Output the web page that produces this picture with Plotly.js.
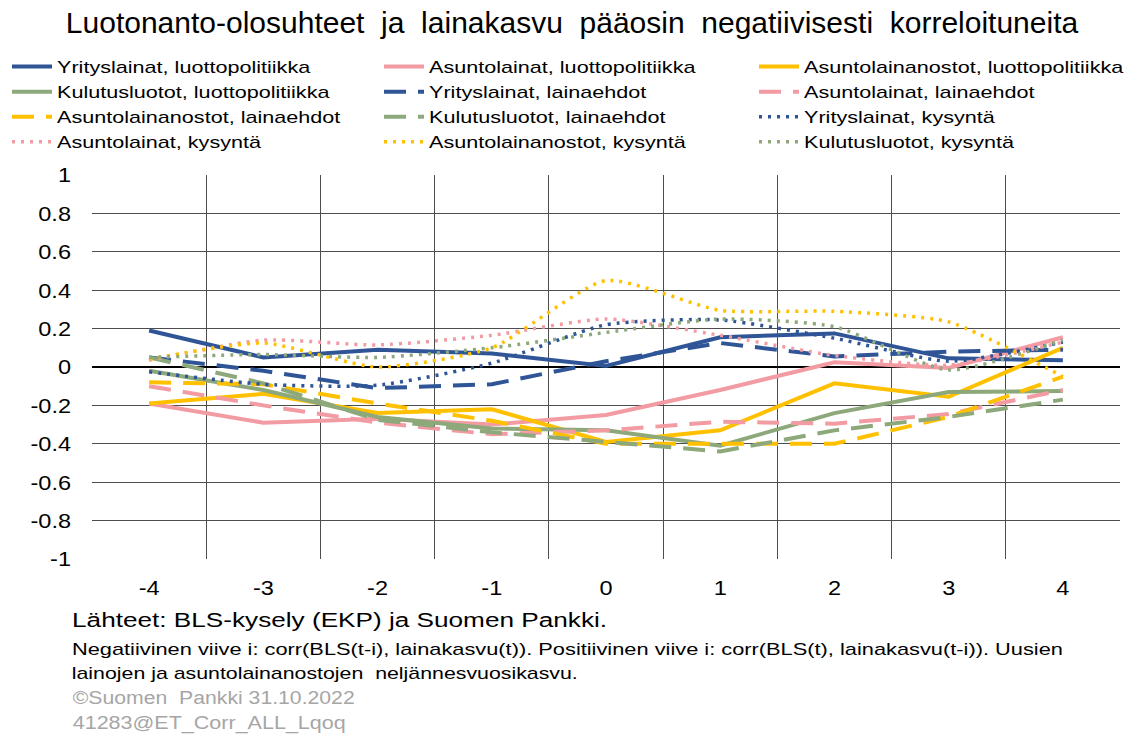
<!DOCTYPE html>
<html>
<head>
<meta charset="utf-8">
<script src="https://cdn.plot.ly/plotly-3.0.1.min.js"></script>
<style>
html,body{margin:0;padding:0;background:#fff;}
#chart{width:1126px;height:735px;}
</style>
</head>
<body>
<div id="chart"></div>
<script>
// Lags
const lags = [-4, -3, -2, -1, 0, 1, 2, 3, 4];
const lagLabels = ["-4", "-3", "-2", "-1", "0", "1", "2", "3", "4"];
const yTickVals = [1, 0.8, 0.6, 0.4, 0.2, 0, -0.2, -0.4, -0.6, -0.8, -1];
const yTickText = ["1", "0.8", "0.6", "0.4", "0.2", "0", "-0.2", "-0.4", "-0.6", "-0.8", "-1"];
const gridPos = [-4.5, -3.5, -2.5, -1.5, -0.5, 0.5, 1.5, 2.5, 3.5, 4.5];

// Series (correlations)
const yritysLuottopolitiikka   = [0.19, 0.05, 0.09, 0.07, 0.005, 0.155, 0.175, 0.045, 0.035];
const asuntoLuottopolitiikka   = [-0.19, -0.29, -0.27, -0.30, -0.25, -0.12, 0.025, -0.005, 0.155];
const nostotLuottopolitiikka   = [-0.19, -0.14, -0.24, -0.22, -0.39, -0.33, -0.085, -0.155, 0.10];
const kulutusLuottopolitiikka  = [-0.02, -0.12, -0.26, -0.32, -0.33, -0.41, -0.24, -0.13, -0.125];
const yritysLainaehdot         = [0.05, -0.02, -0.11, -0.09, 0.03, 0.125, 0.055, 0.08, 0.09];
const asuntoLainaehdot         = [-0.10, -0.20, -0.29, -0.35, -0.33, -0.285, -0.295, -0.245, -0.12];
const nostotLainaehdot         = [-0.08, -0.09, -0.19, -0.28, -0.40, -0.40, -0.40, -0.26, -0.05];
const kulutusLainaehdot        = [0.05, -0.085, -0.275, -0.34, -0.39, -0.44, -0.33, -0.26, -0.17];
const yritysKysynta            = [-0.025, -0.09, -0.095, 0.02, 0.22, 0.245, 0.15, 0.03, 0.13];
const asuntoKysynta            = [0.035, 0.14, 0.115, 0.165, 0.25, 0.165, 0.06, 0.01, 0.13];
const nostotKysynta            = [0.04, 0.125, 0.0, 0.10, 0.45, 0.295, 0.29, 0.235, -0.05];
const kulutusKysynta           = [0.05, 0.065, 0.05, 0.10, 0.18, 0.25, 0.21, -0.015, 0.14];

const names = [
  "Yrityslainat, luottopolitiikka", "Asuntolainat, luottopolitiikka", "Asuntolainanostot, luottopolitiikka",
  "Kulutusluotot, luottopolitiikka", "Yrityslainat, lainaehdot", "Asuntolainat, lainaehdot",
  "Asuntolainanostot, lainaehdot", "Kulutusluotot, lainaehdot", "Yrityslainat, kysyntä",
  "Asuntolainat, kysyntä", "Asuntolainanostot, kysyntä", "Kulutusluotot, kysyntä"
];
const values = [
  yritysLuottopolitiikka, asuntoLuottopolitiikka, nostotLuottopolitiikka,
  kulutusLuottopolitiikka, yritysLainaehdot, asuntoLainaehdot,
  nostotLainaehdot, kulutusLainaehdot, yritysKysynta,
  asuntoKysynta, nostotKysynta, kulutusKysynta
];

// Footer texts
const sourceText = "Lähteet: BLS-kysely (EKP) ja Suomen Pankki.";
const noteLine1 = "Negatiivinen viive i: corr(BLS(t-i), lainakasvu(t)). Positiivinen viive i: corr(BLS(t), lainakasvu(t-i)). Uusien";
const noteLine2 = "lainojen ja asuntolainanostojen  neljännesvuosikasvu.";
const copyText = "©Suomen  Pankki 31.10.2022";
const codeText = "41283@ET_Corr_ALL_Lqoq";

const BLUE = "#2F5597", PINK = "#F29BA3", GOLD = "#FFC000", GREEN = "#8DA97B";
const colors = [BLUE, PINK, GOLD, GREEN, BLUE, PINK, GOLD, GREEN, BLUE, PINK, GOLD, GREEN];
const dashes = ["solid","solid","solid","solid",
                "22px,12px","22px,12px","22px,12px","22px,12px",
                "3px,6px","3px,6px","3px,6px","3px,6px"];
const legendIds = ["legend", "legend2", "legend3"];

const traces = names.map((n, i) => ({
  type: "scatter", mode: "lines", name: n,
  x: lags, y: values[i],
  legend: legendIds[i % 3],
  line: {color: colors[i], width: i >= 8 ? 3.5 : 4, dash: dashes[i],
         shape: i >= 8 ? "spline" : "linear", smoothing: 0.6},
  xaxis: "x", yaxis: "y"
}));
// empty trace carrying the category-boundary grid axis
traces.push({type: "scatter", mode: "lines", x: [], y: [], xaxis: "x2", yaxis: "y", showlegend: false, hoverinfo: "skip"});

const legendBase = (xpx) => ({
  orientation: "v", xref: "container", yref: "container", x: xpx / 1126, y: 1 - 49 / 735,
  xanchor: "left", yanchor: "top", font: {size: 17, color: "#000"}, bgcolor: "rgba(0,0,0,0)",
  traceorder: "normal", itemwidth: 40, borderwidth: 0
});

const PW = 1028, PB = 559, PH = 384;
const px2x = (px) => (px - 92) / PW;
const py2y = (py) => (PB - py) / PH;

// footer line specs: [text, left px, right px, centre y px, font size, colour]
const footer = [
  [sourceText, 72, 607, 620, 20, "#000"],
  [noteLine1, 72, 1063, 649, 17, "#000"],
  [noteLine2, 72, 578, 673, 17, "#000"],
  [copyText, 72, 354, 698, 18, "#A6A6A6"],
  [codeText, 72, 345, 723, 18, "#A6A6A6"]
];

const layout = {
  width: 1126, height: 735,
  paper_bgcolor: "#fff", plot_bgcolor: "#fff",
  font: {family: "Liberation Sans, Arial, sans-serif", color: "#000"},
  margin: {l: 92, r: 6, t: 175, b: 176, autoexpand: false},
  title: {text: "Luotonanto-olosuhteet  ja  lainakasvu  pääosin  negatiivisesti  korreloituneita",
          font: {size: 30, color: "#000"}, x: 572 / 1126, xanchor: "center", xref: "container",
          y: 1 - 22 / 735, yref: "container", yanchor: "middle"},
  showlegend: true,
  legend: legendBase(7),
  legend2: legendBase(379),
  legend3: legendBase(754),
  xaxis: {range: [-4.5, 4.5], tickvals: lags, ticktext: lagLabels, showgrid: false, zeroline: false,
          ticks: "", tickfont: {size: 21}, showline: false, fixedrange: true, ticklabelstandoff: 14},
  xaxis2: {range: [-4.5, 4.5], overlaying: "x", tickvals: gridPos, showgrid: true, gridcolor: "#4d4d4d", gridwidth: 1,
           showticklabels: false, ticks: "", zeroline: false, side: "bottom"},
  yaxis: {range: [-1, 1], tickvals: yTickVals, ticktext: yTickText, showgrid: true, gridcolor: "#4d4d4d", gridwidth: 1,
          zeroline: true, zerolinecolor: "#000", zerolinewidth: 2, tickfont: {size: 21}, ticks: "",
          ticklabelstandoff: 20},
  annotations: footer.map(f => ({
    xref: "paper", yref: "paper", x: px2x((f[1] + f[2]) / 2), y: py2y(f[3]), xanchor: "center", yanchor: "middle",
    showarrow: false, text: f[0], font: {size: f[4], color: f[5]}
  }))
};

function stretchTo(el, target) {
  el.setAttribute("textLength", target);
  el.setAttribute("lengthAdjust", "spacingAndGlyphs");
}
function stretchBy(el, factor) {
  if (!el.getAttribute("data-natural")) el.setAttribute("data-natural", el.getComputedTextLength());
  stretchTo(el, parseFloat(el.getAttribute("data-natural")) * factor);
}
function widen() {
  const root = document.getElementById("chart");
  // the reference's lettering is set wider than the font's natural width
  root.querySelectorAll("text").forEach(el => {
    const t = el.textContent;
    const f = footer.find(r => r[0] === t);
    if (f) { stretchTo(el, f[2] - f[1]); return; }
    if (names.includes(t)) { stretchBy(el, 1.27); return; }
    if (lagLabels.includes(t) || yTickText.includes(t)) stretchBy(el, 1.12);
  });
  root.querySelectorAll("g.scrollbox, g[class^='legend']").forEach(el => el.removeAttribute("clip-path"));
}

const gdEl = document.getElementById("chart");
Plotly.newPlot(gdEl, traces, layout, {displayModeBar: false, staticPlot: true}).then(gd => {
  widen();
  gd.on("plotly_afterplot", widen);
  [0, 30, 100, 250, 500].forEach(t => setTimeout(widen, t));
});
</script>
</body>
</html>
